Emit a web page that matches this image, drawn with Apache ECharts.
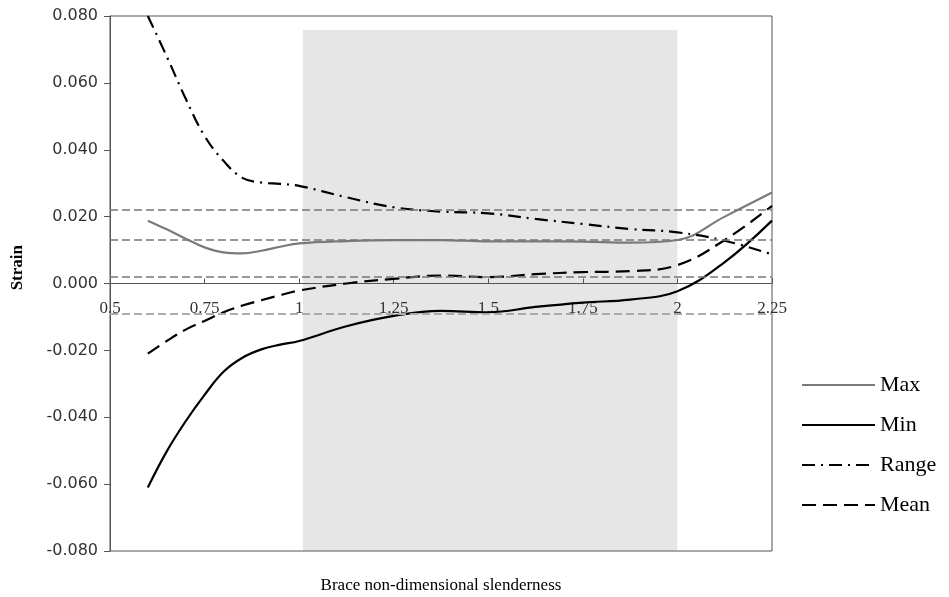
<!DOCTYPE html>
<html>
<head>
<meta charset="utf-8">
<script src="https://cdn.jsdelivr.net/npm/echarts@6/dist/echarts.min.js"></script>
<style>html,body{margin:0;padding:0;background:#fff;}#c{width:949px;height:597px;}</style>
</head>
<body>
<div id="c"></div>
<script>
var slenderness = [0.6, 0.65, 0.7, 0.75, 0.8, 0.85, 0.9, 0.95, 1.0, 1.125, 1.25, 1.375, 1.5, 1.625, 1.75, 1.875, 2.0, 2.125, 2.25];
var maxStrain   = [0.0188, 0.0162, 0.0134, 0.0108, 0.0093, 0.0090, 0.0098, 0.0110, 0.0120, 0.0127, 0.0130, 0.0130, 0.0126, 0.0126, 0.0125, 0.0122, 0.0130, 0.0200, 0.0272];
var minStrain   = [-0.0610, -0.0502, -0.0412, -0.0333, -0.0264, -0.0222, -0.0197, -0.0183, -0.0172, -0.0128, -0.0097, -0.0082, -0.0086, -0.0070, -0.0057, -0.0048, -0.0023, 0.0064, 0.0188];
var rangeStrain = [0.0800, 0.0679, 0.0553, 0.0441, 0.0367, 0.0316, 0.0302, 0.0298, 0.0292, 0.0258, 0.0228, 0.0215, 0.0210, 0.0193, 0.0178, 0.0163, 0.0153, 0.0128, 0.0087];
var meanStrain  = [-0.0210, -0.0172, -0.0138, -0.0112, -0.0086, -0.0066, -0.0050, -0.0035, -0.0021, 0.0000, 0.0014, 0.0024, 0.0019, 0.0028, 0.0034, 0.0037, 0.0055, 0.0130, 0.0232];
var refLevels = [0.022, 0.013, 0.002];
var refLevelLow = [-0.009];
var shadeX = [1.01, 2.0];
var shadeY = [0.0758, -0.08];

function pairs(ys) { return slenderness.map(function (x, i) { return [x, ys[i]]; }); }

var chart = echarts.init(document.getElementById('c'), null, {renderer: 'canvas'});
var serif = '"Liberation Serif", "Times New Roman", serif';
var sans = '"DejaVu Sans", Verdana, sans-serif';

var gridTop = 16, gridBottom = 46, H = 597;
var yMin = -0.08, yMax = 0.08;
var zeroOffset = -((H - gridTop - gridBottom) * (0 - yMin) / (yMax - yMin));

chart.setOption({
  animation: false,
  backgroundColor: '#ffffff',
  grid: {left: 110, right: 177, top: gridTop, bottom: gridBottom, outerBoundsMode: 'none', containLabel: false,
    show: true, borderColor: '#555', borderWidth: 1, backgroundColor: 'transparent', z: 2},
  legend: {
    orient: 'vertical', left: 796, top: 369, itemWidth: 73, itemHeight: 14, itemGap: 18,
    itemStyle: {opacity: 0},
    textStyle: {fontFamily: serif, fontSize: 22, color: '#000', padding: [0, 0, 0, 0]},
    data: ['Max', 'Min', 'Range', 'Mean']
  },
  xAxis: {
    type: 'value', min: 0.5, max: 2.25, interval: 0.25, z: 2, position: 'bottom', offset: zeroOffset,
    axisLine: {onZero: false, lineStyle: {color: '#555', width: 1}},
    axisTick: {inside: true, length: 5, lineStyle: {color: '#555'}},
    axisLabel: {fontFamily: serif, fontSize: 17, color: '#333', margin: 17, showMaxLabel: true, showMinLabel: true,
      formatter: function (v) { return String(+v.toFixed(2)); }},
    splitLine: {show: false},
    name: 'Brace non-dimensional slenderness', nameLocation: 'middle', nameGap: 294,
    nameTextStyle: {fontFamily: serif, fontSize: 17, color: '#000'}
  },
  yAxis: {
    type: 'value', min: yMin, max: yMax, interval: 0.02, z: 2,
    axisLine: {show: true, onZero: false, lineStyle: {color: '#555', width: 1}},
    axisTick: {show: true, length: 6, lineStyle: {color: '#555'}},
    axisLabel: {fontFamily: sans, fontSize: 16, color: '#333', margin: 12, formatter: function (v) { return v.toFixed(3); }},
    splitLine: {show: false}
  },
  graphic: [{
    type: 'text', left: 9, top: 245, rotation: Math.PI / 2,
    style: {text: 'Strain', font: 'bold 17px ' + serif, fill: '#000'}
  }],
  series: [
    {
      name: 'shade', type: 'line', data: [], z: 0, clip: false, silent: true,
      markArea: {silent: true, itemStyle: {color: '#e6e6e6'},
        data: [[{xAxis: shadeX[0], yAxis: shadeY[0]}, {xAxis: shadeX[1], yAxis: shadeY[1]}]]}
    },
    {
      name: 'refs', type: 'line', data: [], z: 3, silent: true,
      markLine: {silent: true, precision: 4, symbol: ['none', 'none'], label: {show: false},
        lineStyle: {color: '#777', type: [8, 4], width: 1.5},
        data: refLevels.map(function (v) { return {yAxis: v}; }).concat(
          refLevelLow.map(function (v) { return {yAxis: v, lineStyle: {color: '#aaa', type: [8, 4], width: 2}}; }))}
    },
    {name: 'Max', type: 'line', data: pairs(maxStrain), smooth: 0.4, showSymbol: false, symbol: 'none', z: 4,
      lineStyle: {color: '#7a7a7a', width: 2.2}, itemStyle: {color: '#7a7a7a'}},
    {name: 'Min', type: 'line', data: pairs(minStrain), smooth: 0.4, showSymbol: false, symbol: 'none', z: 4,
      lineStyle: {color: '#000', width: 2.2}, itemStyle: {color: '#000'}},
    {name: 'Range', type: 'line', data: pairs(rangeStrain), smooth: 0.4, showSymbol: false, symbol: 'none', z: 4,
      lineStyle: {color: '#000', width: 2.2, type: [13, 6, 2, 6]}, itemStyle: {color: '#000'}},
    {name: 'Mean', type: 'line', data: pairs(meanStrain), smooth: 0.4, showSymbol: false, symbol: 'none', z: 4,
      lineStyle: {color: '#000', width: 2.2, type: [14, 7]}, itemStyle: {color: '#000'}}
  ]
});
</script>
</body>
</html>
